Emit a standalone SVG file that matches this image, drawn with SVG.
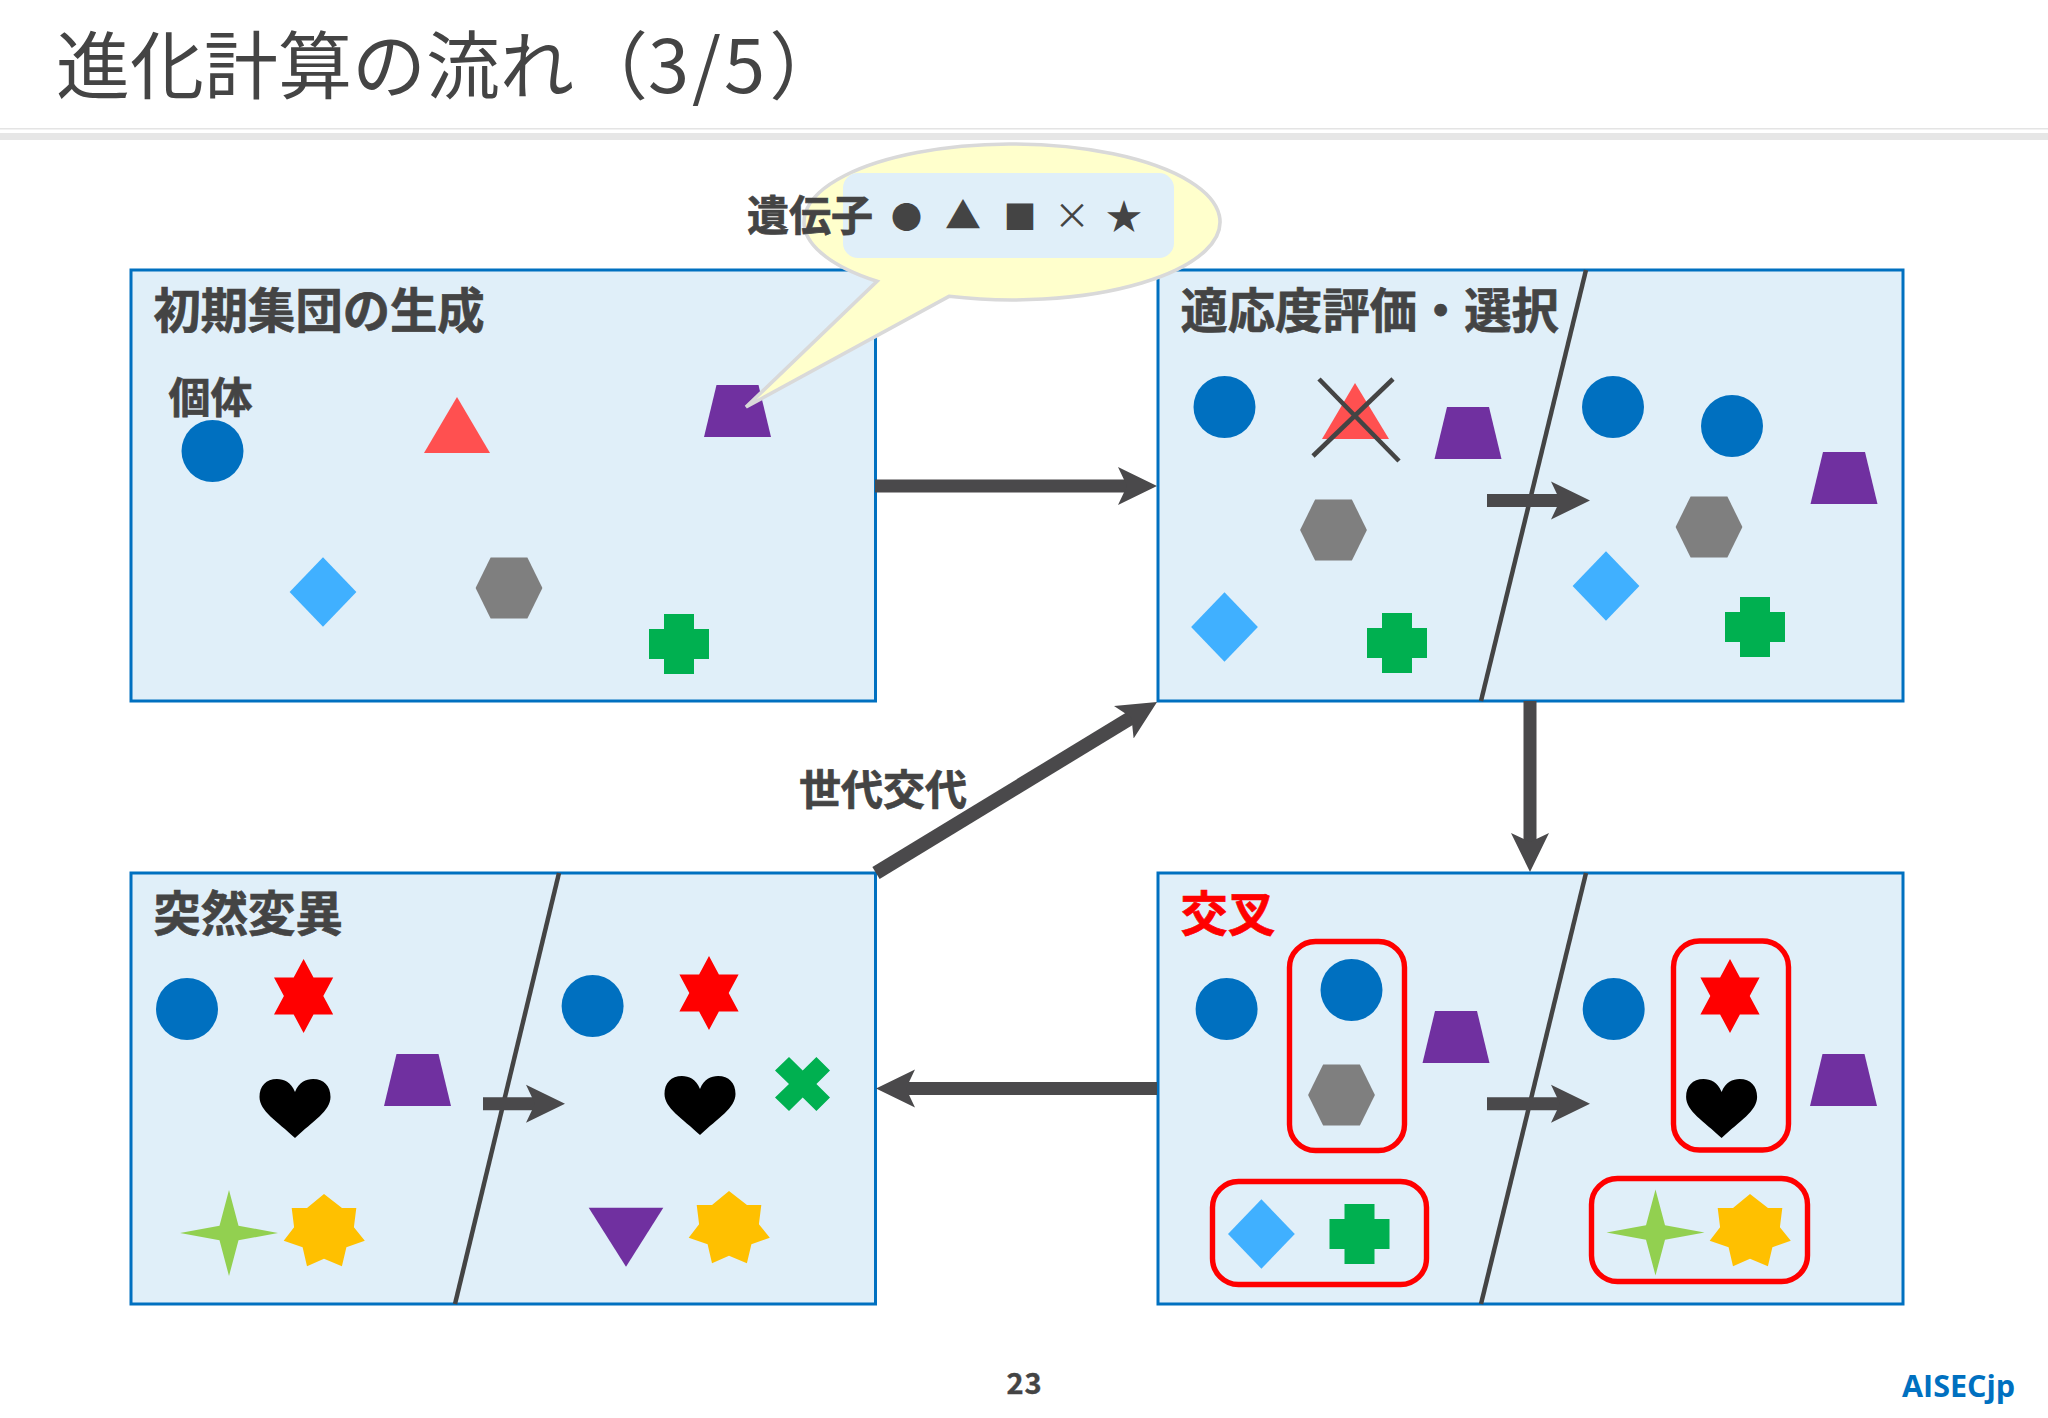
<svg xmlns="http://www.w3.org/2000/svg" xmlns:xlink="http://www.w3.org/1999/xlink" width="2048" height="1418" viewBox="0 0 2048 1418">
<style>
text{font-family:"Noto Sans CJK JP","Noto Sans",sans-serif;fill:#444}
.h{font-size:47.3px;font-weight:700;stroke:#444;stroke-width:.7}
.l{font-size:42px;font-weight:700;stroke:#444;stroke-width:.7}
.panel{fill:#e0eff9;stroke:#0070c0;stroke-width:3}
.div{stroke:#444;stroke-width:4.5;fill:none}
.c{fill:#0070c0}
.t{fill:#7030a0}
.hx{fill:#7f7f7f}
.d{fill:#40b0ff}
.p{fill:#00b050}
.s6{fill:#f00}
.g{fill:#ffc000}
.s4{fill:#92d050}
.red{fill:none;stroke:#f00;stroke-width:5.4}
.arr{stroke:#4a494b;stroke-width:13;fill:none;marker-end:url(#ah)}
.sym{text-anchor:middle}
</style>
<defs>
<marker id="ah" markerUnits="userSpaceOnUse" markerWidth="40" markerHeight="40" refX="12" refY="20" orient="auto" viewBox="0 0 40 40"><path d="M0,1 L39,20 L0,39 L9,20Z" fill="#4a494b"/></marker>
<polygon id="trap" points="-21,0 21,0 33.5,52 -33.5,52"/>
<polygon id="hex" points="-33.4,0 -18.4,-30.5 18.4,-30.5 33.4,0 18.4,30.5 -18.4,30.5"/>
<polygon id="dia" points="0,-34.7 33.4,0 0,34.7 -33.4,0"/>
<polygon id="plus" points="-15,-30 15,-30 15,-15 30,-15 30,15 15,15 15,30 -15,30 -15,15 -30,15 -30,-15 -15,-15"/>
<polygon id="star6" points="0,-37 9.9,-18.5 29.6,-18.5 19.7,0 29.6,18.5 9.9,18.5 0,37 -9.9,18.5 -29.6,18.5 -19.7,0 -29.6,-18.5 -9.9,-18.5"/>
<polygon id="star7" points="0,0 18,14 32.3,14 29.9,33.3 40.8,46.7 22.4,53.3 17.9,72.3 0,64.7 -17,72.3 -21.4,53.3 -40.3,46.7 -29.9,33.3 -32.3,14 -17,14"/>
<polygon id="star4" points="0,-43 9.5,-7.3 49,0 9.5,7.3 0,43 -9.5,7.3 -49,0 -9.5,-7.3"/>
<path id="heart" d="M0,13 C4,3 11,0 18,0 C29,0 35.5,7 35.5,18 C35.5,32 18,42 0,59 C-18,42 -35.5,32 -35.5,18 C-35.5,7 -29,0 -18,0 C-11,0 -4,3 0,13Z"/>
</defs>
<rect width="2048" height="1418" fill="#fff"/>
<g id="header">
<rect x="0" y="128" width="2048" height="1.5" fill="#e4e4e4"/>
<rect x="0" y="133" width="2048" height="7" fill="#e6e6e6"/>
<text x="56" y="93" font-size="74">進化計算の流れ（3<tspan dx="3">/</tspan><tspan dx="3">5</tspan><tspan dx="4">）</tspan></text>
</g>
<g id="panel-init">
<rect class="panel" x="131" y="270" width="744.5" height="431"/>
<text class="h" x="153.5" y="328">初期集団の生成</text>
<text class="l" x="168.5" y="413">個体</text>
<circle class="c" cx="212.5" cy="451" r="31"/>
<polygon points="457,397 490,453 424,453" fill="#ff5050"/>
<use xlink:href="#trap" href="#trap" class="t" x="737.5" y="385"/>
<use xlink:href="#dia" href="#dia" class="d" x="323" y="592"/>
<use xlink:href="#hex" href="#hex" class="hx" x="509" y="588"/>
<use xlink:href="#plus" href="#plus" class="p" x="679" y="644"/>
</g>
<g id="panel-select">
<rect class="panel" x="1158" y="270" width="745" height="431"/>
<line class="div" x1="1586" y1="270" x2="1481" y2="701"/>
<text class="h" x="1180.5" y="328">適応度評価・選択</text>
<circle class="c" cx="1224.5" cy="407" r="31"/>
<polygon points="1355,383 1389,439 1322,439" fill="#ff5050"/>
<line x1="1319" y1="379" x2="1399" y2="461" stroke="#444" stroke-width="4.6"/>
<line x1="1393" y1="379" x2="1313" y2="456" stroke="#444" stroke-width="4.6"/>
<use xlink:href="#trap" href="#trap" class="t" x="1468" y="407"/>
<use xlink:href="#hex" href="#hex" class="hx" x="1333.5" y="530"/>
<use xlink:href="#dia" href="#dia" class="d" x="1224.5" y="627"/>
<use xlink:href="#plus" href="#plus" class="p" x="1397" y="643"/>
<circle class="c" cx="1613" cy="407" r="31"/>
<circle class="c" cx="1732" cy="426" r="31"/>
<use xlink:href="#trap" href="#trap" class="t" x="1844" y="452"/>
<use xlink:href="#hex" href="#hex" class="hx" x="1709" y="527"/>
<use xlink:href="#dia" href="#dia" class="d" x="1606" y="586"/>
<use xlink:href="#plus" href="#plus" class="p" x="1755" y="627"/>
</g>
<g id="panel-mutation">
<rect class="panel" x="131" y="873" width="744.5" height="431"/>
<line class="div" x1="559" y1="873" x2="455" y2="1304"/>
<text class="h" x="153.5" y="931">突然変異</text>
<circle class="c" cx="187" cy="1009" r="31"/>
<use xlink:href="#star6" href="#star6" class="s6" x="303.6" y="996"/>
<use xlink:href="#heart" href="#heart" x="295" y="1079"/>
<use xlink:href="#trap" href="#trap" class="t" x="417.5" y="1054"/>
<use xlink:href="#star4" href="#star4" class="s4" x="229" y="1233"/>
<use xlink:href="#star7" href="#star7" class="g" x="324" y="1194"/>
<circle class="c" cx="592.6" cy="1006" r="31"/>
<use xlink:href="#star6" href="#star6" class="s6" x="709" y="993"/>
<use xlink:href="#heart" href="#heart" x="700" y="1076"/>
<polygon class="p" points="789,1057 802.7,1070.5 816.4,1057 830,1070.5 816.4,1084 830,1097.5 816.4,1111 802.7,1097.5 789,1111 775,1097.5 789,1084 775,1070.5"/>
<polygon class="t" points="588.7,1207.7 663.3,1207.7 626,1266.7"/>
<use xlink:href="#star7" href="#star7" class="g" x="729" y="1191"/>
</g>
<g id="panel-crossover">
<rect class="panel" x="1158" y="873" width="745" height="431"/>
<line class="div" x1="1586" y1="873" x2="1481" y2="1304"/>
<text class="h" x="1180.5" y="931" style="fill:#f00;stroke:#f00">交叉</text>
<circle class="c" cx="1226.6" cy="1009" r="31"/>
<circle class="c" cx="1351.5" cy="990" r="31"/>
<use xlink:href="#trap" href="#trap" class="t" x="1456" y="1011"/>
<use xlink:href="#hex" href="#hex" class="hx" x="1341.5" y="1095"/>
<use xlink:href="#dia" href="#dia" class="d" x="1261.4" y="1234"/>
<use xlink:href="#plus" href="#plus" class="p" x="1359.5" y="1234"/>
<rect class="red" x="1289.5" y="941.5" width="115" height="209" rx="26"/>
<rect class="red" x="1212.5" y="1181.5" width="214" height="103" rx="26"/>
<circle class="c" cx="1613.7" cy="1009" r="31"/>
<use xlink:href="#star6" href="#star6" class="s6" x="1730" y="996"/>
<use xlink:href="#heart" href="#heart" x="1721.6" y="1079"/>
<use xlink:href="#trap" href="#trap" class="t" x="1843.5" y="1054"/>
<use xlink:href="#star4" href="#star4" class="s4" x="1655.5" y="1232.5"/>
<use xlink:href="#star7" href="#star7" class="g" x="1750" y="1194"/>
<rect class="red" x="1673.5" y="941" width="115" height="209" rx="26"/>
<rect class="red" x="1591.5" y="1178.5" width="216" height="103" rx="26"/>
</g>
<g id="connectors">
<line class="arr" x1="875" y1="486" x2="1130" y2="486"/>
<line class="arr" x1="1530" y1="701" x2="1530" y2="845"/>
<line class="arr" x1="1157" y1="1088.5" x2="903" y2="1088.5"/>
<line class="arr" x1="876" y1="873" x2="1134" y2="716" style="stroke-width:14"/>
<line class="arr" x1="1487" y1="500.5" x2="1563" y2="500.5"/>
<line class="arr" x1="1487" y1="1103.7" x2="1563" y2="1103.7"/>
<line class="arr" x1="483" y1="1103.7" x2="538" y2="1103.7"/>
</g>
<text class="l" x="799" y="805">世代交代</text>
<g id="callout">
<path d="M949,296.3 L746,407 L877,281.3 A208,78 0 1 1 949,296.3Z" fill="#ffffcc" stroke="#d9d9d9" stroke-width="3.6"/>
<rect x="843" y="173" width="331" height="85" rx="15" fill="#e0eff9"/>
<text class="l" x="747" y="231">遺伝子</text>
<text class="sym" x="906.4" y="228" font-size="31">●</text>
<text class="sym" x="963" y="229" font-size="36">▲</text>
<text class="sym" x="1020" y="229" font-size="33">■</text>
<text class="sym" x="1072" y="229" font-size="36">×</text>
<text class="sym" x="1124" y="230" font-size="36">★</text>
</g>
<g id="footer">
<text x="1024.5" y="1394" font-size="29" font-weight="700" text-anchor="middle" letter-spacing="1" stroke="#444" stroke-width=".4">23</text>
<text x="1902" y="1397" font-size="30.5" font-weight="700" style="fill:#0070c0;font-family:'Open Sans',sans-serif">AISECjp</text>
</g>
</svg>
